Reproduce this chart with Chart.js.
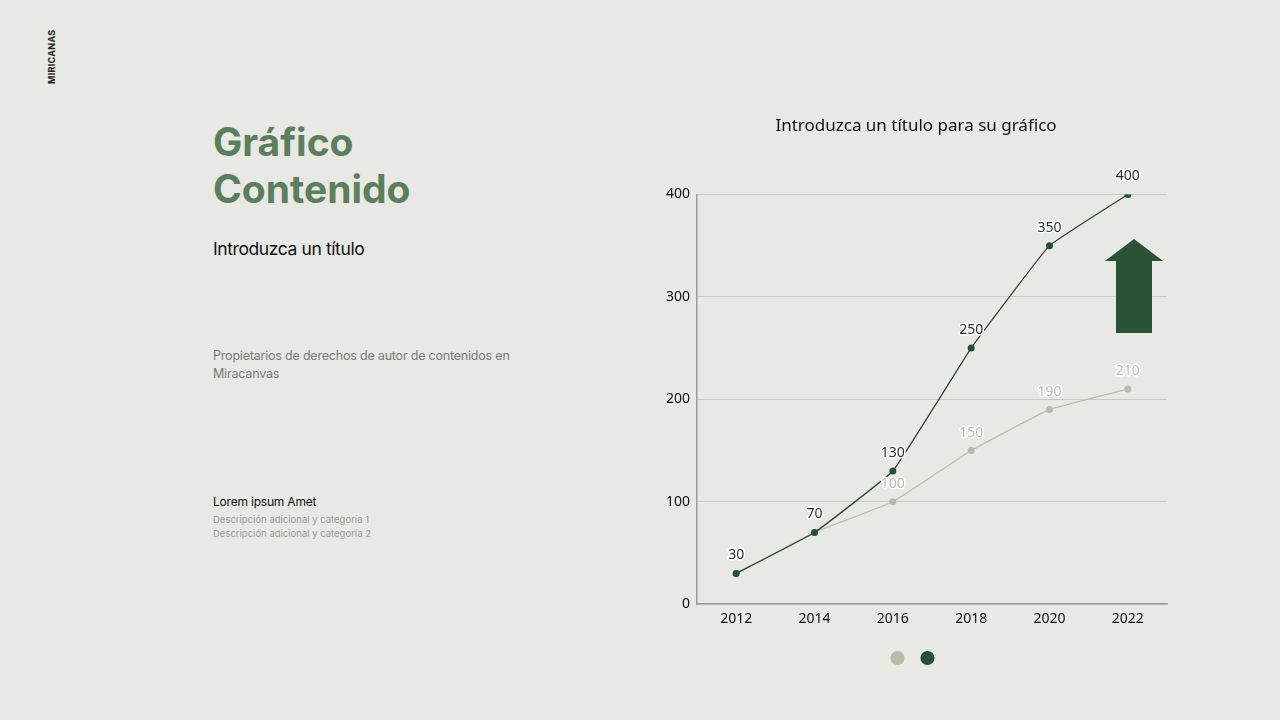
<!DOCTYPE html>
<html>
<head>
<meta charset="utf-8">
<script src="https://cdn.jsdelivr.net/npm/chart.js@4/dist/chart.umd.min.js"></script>
<style>
  html, body { margin: 0; padding: 0; }
  body { width: 1280px; height: 720px; background: #e8e8e5; position: relative; overflow: hidden; font-family: Inter, "Noto Sans", sans-serif; }
  .brand { position: absolute; left: 46px; top: 84px; transform: rotate(-90deg); transform-origin: left top; font-size: 9px; font-weight: 700; letter-spacing: 0.3px; color: #222; }
  .big { position: absolute; left: 213px; top: 118px; font-size: 39px; line-height: 47px; font-weight: 700; color: #5b7f5d; letter-spacing: 0px; }
  .sub { position: absolute; left: 213px; top: 238px; font-size: 17.5px; color: #111; letter-spacing: -0.4px; }
  .para { position: absolute; left: 213px; top: 347px; font-size: 12.5px; line-height: 18px; color: #7a7a78; width: 320px; letter-spacing: -0.2px; }
  .lorem { position: absolute; left: 213px; top: 494px; font-size: 12px; color: #111; letter-spacing: -0.2px; }
  .desc { position: absolute; left: 213px; top: 513px; font-size: 9.5px; line-height: 14px; color: #9a9a98; }
  #wrap { position: absolute; left: 640px; top: 100px; width: 544px; height: 590px; }
  #arrow { position: absolute; left: 0; top: 0; }
</style>
</head>
<body>
<div class="brand">MIRICANAS</div>
<div class="big">Gráfico<br>Contenido</div>
<div class="sub">Introduzca un título</div>
<div class="para">Propietarios de derechos de autor de contenidos en Miracanvas</div>
<div class="lorem">Lorem ipsum Amet</div>
<div class="desc">Descripción adicional y categoría 1<br>Descripción adicional y categoría 2</div>
<div id="wrap"><canvas id="line1"></canvas></div>
<svg id="arrow" width="1280" height="720"><polygon points="1134,239 1163,261 1152,261 1152,333 1116,333 1116,261 1105,261" fill="#2a5237"/></svg>
<script>
var years = ['2012', '2014', '2016', '2018', '2020', '2022'];
var lightValues = [30, 70, 100, 150, 190, 210];
var darkValues = [30, 70, 130, 250, 350, 400];
var yTicks = [0, 100, 200, 300, 400];

var lightColor = '#b4c2a4';
var darkColor = '#2a5237';

// value labels above each point, with a white halo
var valueLabels = {
    id: 'valueLabels',
    afterDatasetsDraw: function(chart) {
        var ctx = chart.ctx;
        [0, 1].forEach(function(i) {
            var meta = chart.getDatasetMeta(i);
            var ds = chart.data.datasets[i];
            ctx.save();
            ctx.font = '14px "Noto Sans"';
            ctx.textAlign = 'center';
            ctx.textBaseline = 'middle';
            ctx.lineJoin = 'round';
            meta.data.forEach(function(pt, j) {
                var txt = String(ds.data[j]);
                ctx.lineWidth = 3;
                ctx.strokeStyle = '#ffffff';
                ctx.strokeText(txt, pt.x, pt.y - 18);
                ctx.fillStyle = i == 0 ? '#b9bcb2' : '#24352a';
                ctx.fillText(txt, pt.x, pt.y - 18);
            });
            ctx.restore();
        });
    }
};

new Chart(document.getElementById('line1'), {
    type: 'line',
    data: {
        labels: years,
        datasets: [{
            label: '',
            data: lightValues,
            borderColor: '#b9bdb0',
            backgroundColor: lightColor,
            pointBackgroundColor: '#b6bca8',
            pointBorderWidth: 0,
            pointRadius: 3.5,
            borderWidth: 1.3,
            tension: 0.1,
            order: 2
        }, {
            label: '',
            data: darkValues,
            borderColor: '#2e4636',
            backgroundColor: darkColor,
            pointBackgroundColor: '#24503a',
            pointBorderWidth: 0,
            pointRadius: 3.5,
            borderWidth: 1.3,
            tension: 0.08,
            order: 1
        }]
    },
    options: {
        responsive: true,
        maintainAspectRatio: false,
        animation: false,
        layout: { padding: { left: 25, right: 17, top: 0, bottom: 15 } },
        plugins: {
            title: {
                display: true,
                text: 'Introduzca un título para su gráfico',
                color: '#111',
                font: { family: 'Noto Sans', size: 17, weight: 'normal' },
                padding: { top: 16, bottom: 58 }
            },
            legend: {
                position: 'bottom',
                reverse: true,
                labels: {
                    usePointStyle: true,
                    pointStyle: 'circle',
                    boxWidth: 10,
                    boxHeight: 10,
                    padding: 13,
                    font: { size: 14 }
                }
            },
            tooltip: { enabled: false }
        },
        scales: {
            x: {
                offset: true,
                afterFit: function(scale) { scale.height += 5; },
                grid: { display: false, drawTicks: false },
                border: { color: '#9a9a98', width: 1.5 },
                ticks: { color: '#111', font: { family: 'Noto Sans', size: 14 }, padding: 6 }
            },
            y: {
                min: 0,
                max: 400,
                afterBuildTicks: function(scale) {
                    scale.ticks = yTicks.map(function(v) { return { value: v }; });
                },
                afterFit: function(scale) { scale.width = 32; },
                grid: { color: '#c9c9c5', drawTicks: false },
                border: { color: '#9a9a98', width: 1.5 },
                ticks: { color: '#111', font: { family: 'Noto Sans', size: 14 }, padding: 7 }
            }
        }
    },
    plugins: [valueLabels]
});
</script>
</body>
</html>
